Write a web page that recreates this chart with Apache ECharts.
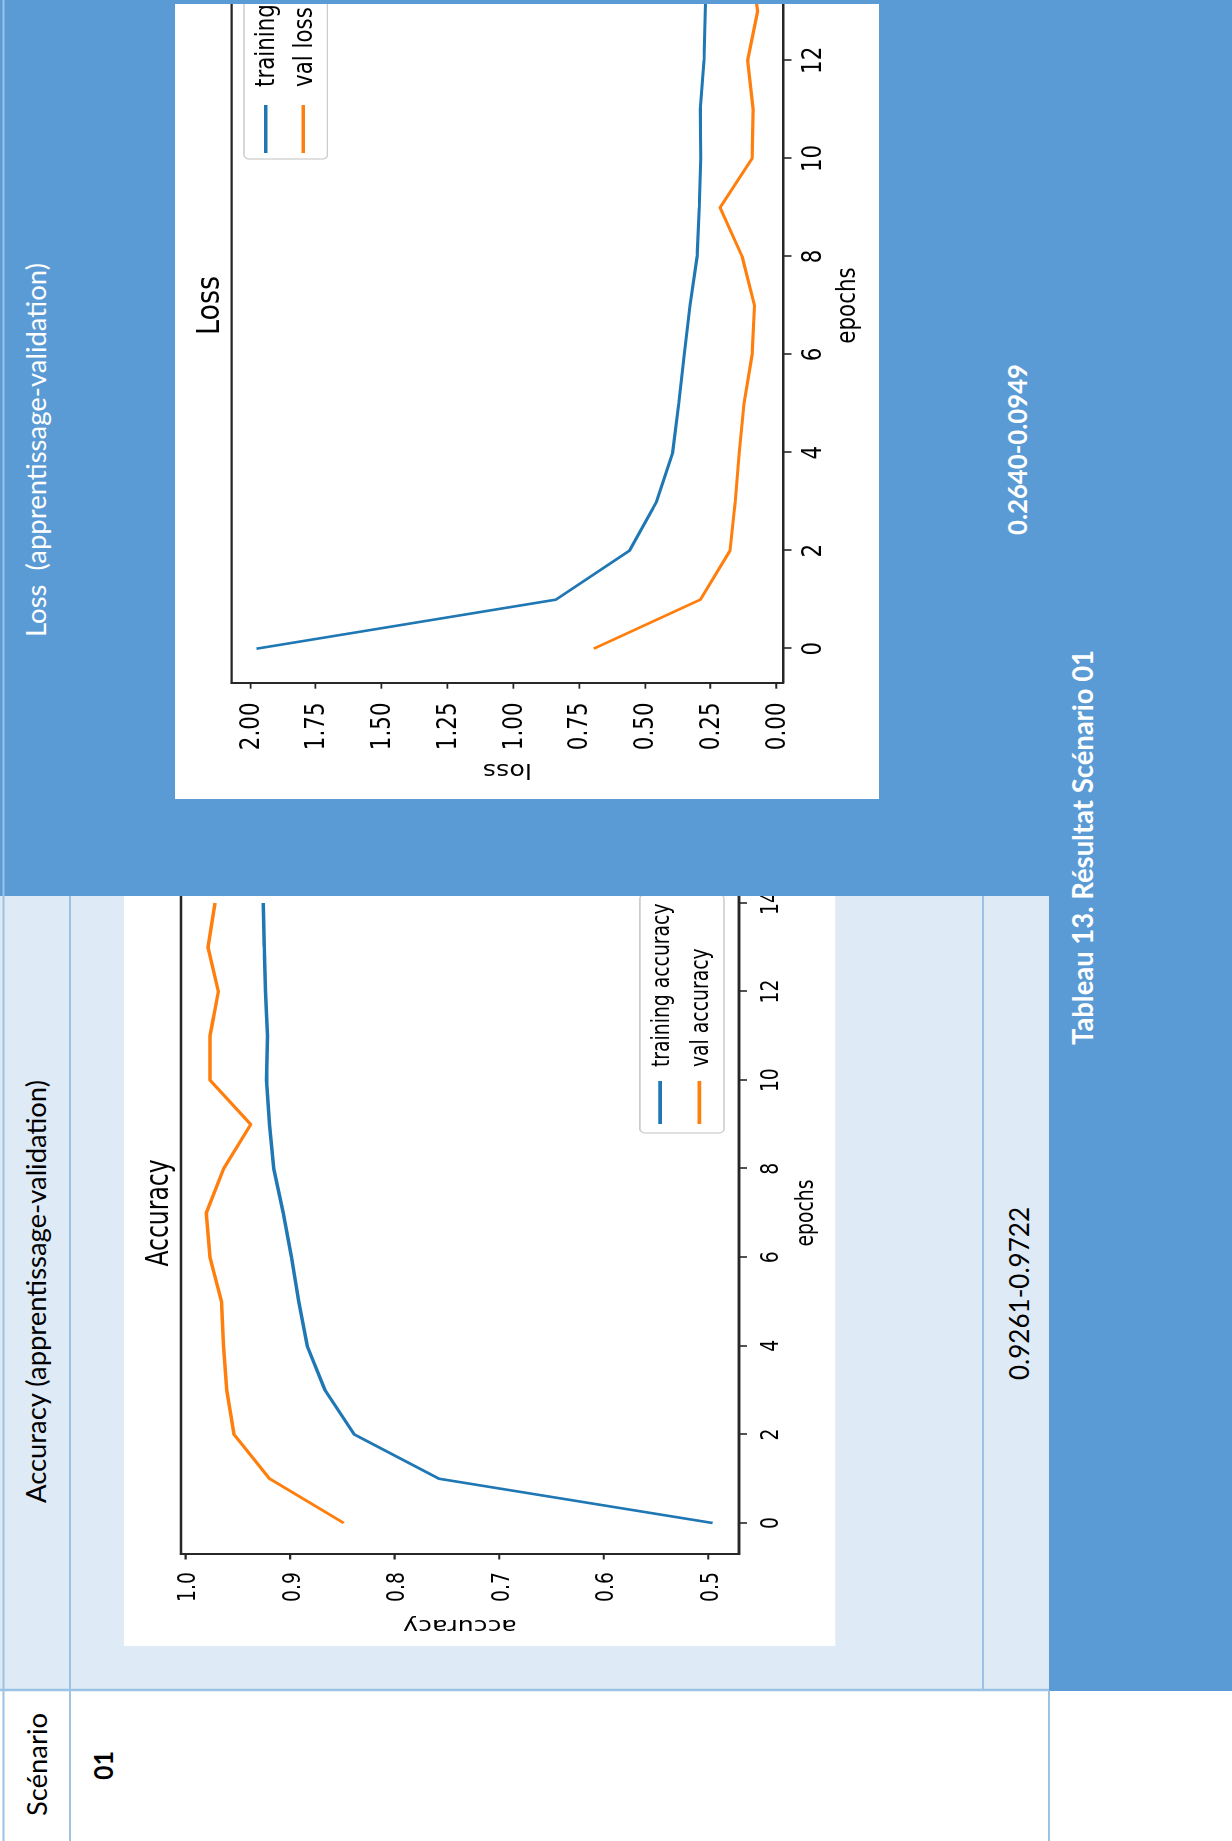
<!DOCTYPE html>
<html lang="fr">
<head>
<meta charset="utf-8">
<title>Tableau 13. Résultat Scénario 01</title>
<script src="https://cdn.jsdelivr.net/npm/echarts@6/dist/echarts.min.js"></script>
<style>
  html, body { margin: 0; padding: 0; width: 1232px; height: 1841px; overflow: hidden; background: #fff; }
  body { position: relative; }
  .abs { position: absolute; }
  #cellLight { left: 0; top: 896px; width: 1049px; height: 795px; background: #DEEAF6; z-index: 0; }
  #accChart { left: 124px; top: 1646px; width: 800px; height: 531px; transform-origin: 0 0;
              transform: rotate(-90deg) scale(1, 1.34); z-index: 1; filter: blur(0.35px); }
  #blueTop { left: 0; top: 0; width: 1232px; height: 896px; background: #5B9BD5; z-index: 2; }
  #blueSide { left: 1049px; top: 896px; width: 183px; height: 795px; background: #5B9BD5; z-index: 2; }
  #lossClip { left: 175px; top: 4px; width: 704px; height: 795px; overflow: hidden; z-index: 3; }
  #lossChart { left: 0; top: 795px; width: 900px; height: 587px; transform-origin: 0 0;
               transform: rotate(-90deg) scale(1, 1.2); filter: blur(0.35px); }
  #overlay { left: 0; top: 0; z-index: 4; pointer-events: none; }
  #overlay text { font-family: Lato, 'Open Sans', sans-serif; }
</style>
</head>
<body>
<div id="cellLight" class="abs"></div>
<div id="accChart" class="abs"></div>
<div id="blueTop" class="abs"></div>
<div id="blueSide" class="abs"></div>
<div id="lossClip" class="abs"><div id="lossChart" class="abs"></div></div>

<svg id="overlay" class="abs" width="1232" height="1841" xmlns="http://www.w3.org/2000/svg">
  <g stroke="#9CC2E5" fill="none">
    <line x1="3.5" y1="0" x2="3.5" y2="1841" stroke-width="2"/>
    <line x1="70" y1="896" x2="70" y2="1841" stroke-width="2"/>
    <line x1="983" y1="896" x2="983" y2="1691" stroke-width="2"/>
    <line x1="1049" y1="1690" x2="1049" y2="1841" stroke-width="2"/>
    <line x1="0" y1="1690" x2="1049" y2="1690" stroke-width="2.5"/>
  </g>
  <text transform="translate(46.5,1764.5) rotate(-90)" text-anchor="middle" font-size="26" fill="#000"
        textLength="103" lengthAdjust="spacingAndGlyphs">Scénario</text>
  <text transform="translate(113,1765.5) rotate(-90)" text-anchor="middle" font-size="26" font-weight="bold" fill="#000"
        textLength="29" lengthAdjust="spacingAndGlyphs">01</text>
  <text transform="translate(46,1291.5) rotate(-90)" text-anchor="middle" font-size="26" fill="#000"
        textLength="423" lengthAdjust="spacingAndGlyphs">Accuracy (apprentissage-validation)</text>
  <text transform="translate(46,450) rotate(-90)" text-anchor="middle" font-size="26" fill="#fff"
        textLength="374" lengthAdjust="spacingAndGlyphs">Loss&#160; (apprentissage-validation)</text>
  <text id="accFinal" transform="translate(1029,1293.5) rotate(-90)" text-anchor="middle" font-size="27" fill="#000"
        textLength="173" lengthAdjust="spacingAndGlyphs"></text>
  <text id="lossFinal" transform="translate(1027,449.5) rotate(-90)" text-anchor="middle" font-size="27.5" font-weight="bold" fill="#fff"
        textLength="171" lengthAdjust="spacingAndGlyphs"></text>
  <text transform="translate(1093,847.5) rotate(-90)" text-anchor="middle" font-size="28.5" font-weight="bold" fill="#fff"
        textLength="395" lengthAdjust="spacingAndGlyphs">Tableau 13. Résultat Scénario 01</text>
</svg>

<script>
// Training history, one value per epoch
const epochs = [0, 1, 2, 3, 4, 5, 6, 7, 8, 9, 10, 11, 12, 13, 14];
const trainAcc = [0.496, 0.758, 0.839, 0.867, 0.884, 0.892, 0.899, 0.907, 0.916, 0.920, 0.923, 0.922, 0.924, 0.925, 0.9261];
const valAcc = [0.849, 0.920, 0.954, 0.961, 0.964, 0.966, 0.977, 0.9806, 0.964, 0.938, 0.977, 0.977, 0.969, 0.979, 0.9722];
const trainLoss = [1.975, 0.837, 0.557, 0.454, 0.393, 0.370, 0.349, 0.327, 0.300, 0.292, 0.286, 0.288, 0.274, 0.269, 0.2640];
const valLoss = [0.693, 0.288, 0.175, 0.155, 0.140, 0.122, 0.091, 0.082, 0.129, 0.213, 0.091, 0.087, 0.108, 0.070, 0.0949];

// Tick positions
const epochTicks = [0, 2, 4, 6, 8, 10, 12, 14];
const accTicks = [0.5, 0.6, 0.7, 0.8, 0.9, 1.0];
const lossTicks = [0, 0.25, 0.5, 0.75, 1.0, 1.25, 1.5, 1.75, 2.0];

// Final-epoch summary shown in the table
const last = epochs.length - 1;
document.getElementById('accFinal').textContent =
  trainAcc[last].toFixed(4) + '-' + valAcc[last].toFixed(4);
document.getElementById('lossFinal').textContent =
  trainLoss[last].toFixed(4) + '-' + valLoss[last].toFixed(4);

const C0 = '#1f77b4', C1 = '#ff7f0e', INK = '#262626';
const MPL_FONT = 'DejaVu Sans';

function pairs(ys) { return epochs.map((e, i) => [e, ys[i]]); }

function panel(p) {
  const txt = { fontFamily: MPL_FONT, fontSize: p.font, color: '#000' };
  return {
    animation: false,
    backgroundColor: '#fff',
    title: {
      text: p.title, left: p.titleX, top: p.titleTop, textAlign: 'center', padding: 0,
      textStyle: { fontFamily: MPL_FONT, fontSize: p.titleSize, fontWeight: 'normal', color: '#000' }
    },
    legend: {
      orient: 'vertical', left: p.legend.left, top: p.legend.top,
      icon: 'rect', itemWidth: p.legend.handle, itemHeight: 2.8, itemGap: p.legend.gap,
      padding: p.legend.pad, borderColor: '#cccccc', borderWidth: 1.2, borderRadius: 4,
      backgroundColor: 'rgba(255,255,255,0.8)',
      textStyle: Object.assign({ padding: [0, 0, 0, p.legend.textGap] }, txt),
      data: p.names
    },
    grid: {
      show: true, left: p.grid[0], right: p.grid[1], top: p.grid[2], bottom: p.grid[3],
      borderColor: INK, borderWidth: 1.8, backgroundColor: 'transparent',
      containLabel: false, outerBoundsMode: 'none'
    },
    xAxis: {
      type: 'value', min: -0.7, max: 14.7,
      name: 'epochs', nameLocation: 'middle', nameGap: p.xNameGap, nameTextStyle: txt,
      nameMoveOverlap: false,
      axisLine: { show: true, onZero: false, lineStyle: { color: INK, width: 1.8 } },
      axisTick: { show: true, customValues: epochTicks, length: p.xTickLen, lineStyle: { color: INK, width: 1.6 } },
      axisLabel: Object.assign({ customValues: epochTicks, margin: p.xLabelMargin }, txt),
      splitLine: { show: false }
    },
    yAxis: {
      type: 'value', min: p.yMin, max: p.yMax,
      name: p.yName, nameLocation: 'middle', nameGap: p.yNameGap, nameRotate: 90, nameTextStyle: txt,
      nameMoveOverlap: false,
      axisLine: { show: true, onZero: false, lineStyle: { color: INK, width: 1.8 } },
      axisTick: { show: true, customValues: p.yTicks, length: p.yTickLen, lineStyle: { color: INK, width: 1.6 } },
      axisLabel: Object.assign({
        customValues: p.yTicks, margin: p.yLabelMargin,
        formatter: v => Number(v).toFixed(p.dec)
      }, txt),
      splitLine: { show: false }
    },
    series: [
      { type: 'line', name: p.names[0], data: pairs(p.train), symbol: 'none', showSymbol: false,
        lineStyle: { color: C0, width: 2.6 }, itemStyle: { color: C0 } },
      { type: 'line', name: p.names[1], data: pairs(p.val), symbol: 'none', showSymbol: false,
        lineStyle: { color: C1, width: 2.6 }, itemStyle: { color: C1 } }
    ]
  };
}

const accChart = echarts.init(document.getElementById('accChart'), null, { renderer: 'svg', width: 800, height: 531 });
accChart.setOption(panel({
  title: 'Accuracy', titleX: 433, titleTop: 13, titleSize: 23.5, font: 18.8,
  grid: [92, 26, 42.5, 72],
  legend: { left: 513, top: 385, handle: 43, gap: 10.2, pad: [5.6, 9, 9, 9], textGap: 9 },
  names: ['training accuracy', 'val accuracy'],
  train: trainAcc, val: valAcc,
  xNameGap: 39, xTickLen: 6, xLabelMargin: 13,
  yMin: 0.4708, yMax: 1.0048, yTicks: accTicks, yName: 'accuracy', yNameGap: 63,
  yTickLen: 5.5, yLabelMargin: 18, dec: 1
}));

const lossChart = echarts.init(document.getElementById('lossChart'), null, { renderer: 'svg', width: 900, height: 587 });
lossChart.setOption(panel({
  title: 'Loss', titleX: 493.5, titleTop: 13.5, titleSize: 27, font: 21.4,
  grid: [116, 29, 47.2, 80.3],
  legend: { left: 640, top: 57.5, handle: 48, gap: 10.3, pad: [7.6, 6, 9.6, 6], textGap: 13 },
  names: ['training loss', 'val loss'],
  train: trainLoss, val: valLoss,
  xNameGap: 42, xTickLen: 7, xLabelMargin: 13.7,
  yMin: -0.0266, yMax: 2.0695, yTicks: lossTicks, yName: 'loss', yNameGap: 78,
  yTickLen: 5.7, yLabelMargin: 19.5, dec: 2
}));
</script>
</body>
</html>
